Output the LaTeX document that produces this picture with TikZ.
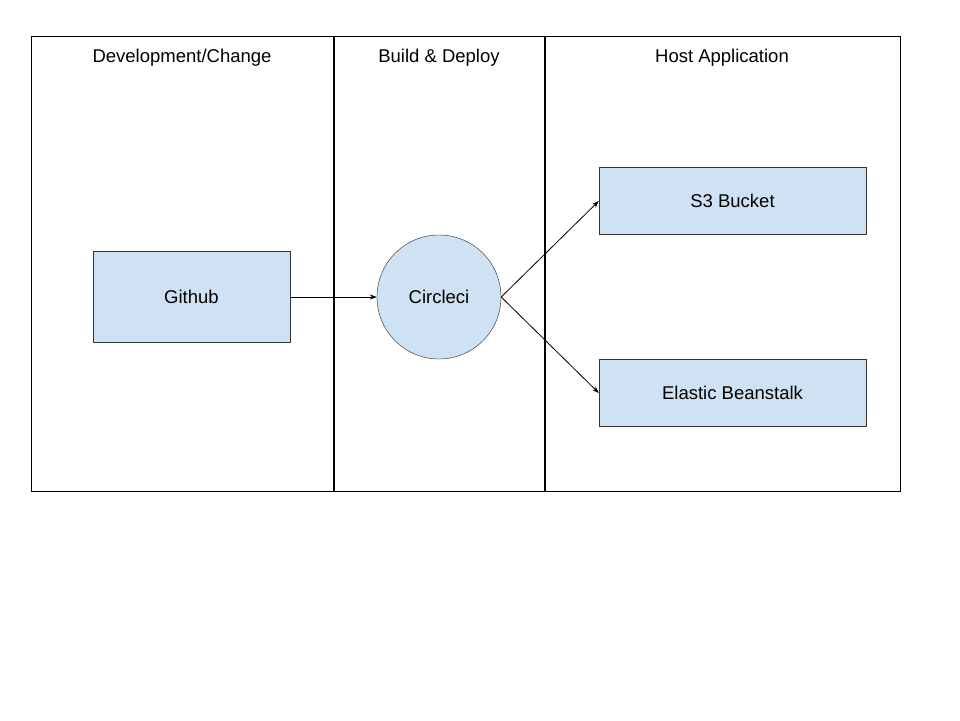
\documentclass[tikz,border=0pt]{standalone}
\usepackage{fontspec}
\setmainfont{Liberation Sans}
\usetikzlibrary{arrows.meta}
\definecolor{boxblue}{HTML}{CFE2F3}
\begin{document}
\begin{tikzpicture}
  [x=1pt,y=-1pt,
   box/.style={draw=black!80,fill=boxblue,minimum width=197pt,minimum height=91pt,font=\fontsize{18.5}{22}\selectfont},
   wide/.style={box,minimum width=267pt,minimum height=67pt},
   round/.style={draw=black!85,fill=boxblue,circle,minimum size=124pt,inner sep=0pt,font=\fontsize{18.5}{22}\selectfont},
   title/.style={font=\fontsize{18.5}{22}\selectfont},
   link/.style={-{Stealth[length=7pt,width=5pt]},line width=0.8pt}]
  \useasboundingbox (0,0) rectangle (960,720);
  \fill[white] (0,0) rectangle (960,720);

  % swim lanes
  \draw[line width=1pt] (31,36) rectangle (900,491);
  \draw[line width=2pt] (334,36) -- (334,491);
  \draw[line width=2pt] (545,36) -- (545,491);

  \node [title] (dev) at (182,58) {Development/Change};
  \node [title] (build) at (439,58) {Build \& Deploy};
  \node [title] (host) at (722,58) {Host Application};

  \node [box] (github) at (191.5,297) {Github};
  \node [round] (circleci) at (439,297) {Circleci};
  \node [wide] (s3) at (732.5,201) {S3 Bucket};
  \node [wide] (eb) at (732.5,393) {Elastic Beanstalk};

  \draw [link] (github.east) -- (circleci.west);
  \draw [link] (circleci.east) -- (s3.west);
  \draw [link] (circleci.east) -- (eb.west);
\end{tikzpicture}
\end{document}
